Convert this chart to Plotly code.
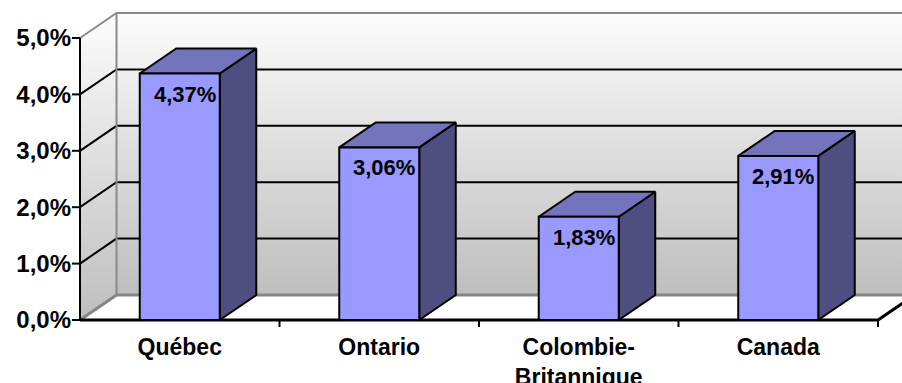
import plotly.graph_objects as go

# ---- data ----
categories = ["Québec", "Ontario", "Colombie-<br>Britannique", "Canada"]
values = [4.37, 3.06, 1.83, 2.91]
y_tick_vals = [0, 1, 2, 3, 4, 5]
y_tick_labels = ["0,0%", "1,0%", "2,0%", "3,0%", "4,0%", "5,0%"]
bar_labels = [f"{v:.2f}%".replace(".", ",") for v in values]

# ---- style / geometry ----
FONT = "Arial, 'Liberation Sans', sans-serif"
W, H = 902, 383
ML, MB = 72, 55
PX_CAT = 199.5          # pixels per category
PX_VAL = 56.4           # pixels per 1 %
BAR_W = 80 / PX_CAT     # bar width in category units
DX = 36.5 / PX_CAT      # depth offset (x)
DY = 25 / PX_VAL        # depth offset (y)
X0 = -0.5
YMAX = 5
n = len(categories)
XR = [X0 - 8 / PX_CAT, X0 - 8 / PX_CAT + (W - ML) / PX_CAT]
YR = [-8 / PX_VAL, -8 / PX_VAL + (H - MB) / PX_VAL]
X1 = X0 + n

FRONT = "#9999FF"
TOP = "#7474BC"
SIDE = "#4E4E80"

fig = go.Figure()


def poly(xs, ys, fill=None, line_color="black", line_width=2, gradient=None):
    kw = dict(x=xs, y=ys, mode="lines", hoverinfo="skip", showlegend=False,
              line=dict(color=line_color, width=line_width))
    if fill is not None:
        kw.update(fill="toself", fillcolor=fill)
    if gradient is not None:
        kw.update(fill="toself", fillgradient=gradient)
    fig.add_trace(go.Scatter(**kw))


grad = dict(type="vertical", colorscale=[[0, "#bebebe"], [1, "#fcfcfc"]])

# back wall
poly([X0 + DX, X1 + DX, X1 + DX, X0 + DX, X0 + DX],
     [DY, DY, YMAX + DY, YMAX + DY, DY],
     line_width=0, gradient=grad, line_color="rgba(0,0,0,0)")
# left wall
poly([X0, X0 + DX, X0 + DX, X0, X0],
     [0, DY, YMAX + DY, YMAX, 0],
     line_width=0, gradient=grad, line_color="rgba(0,0,0,0)")

# gridlines 1..4 (side wall + back wall)
gx, gy = [], []
for v in y_tick_vals[1:-1]:
    gx += [X0, X0 + DX, X1 + DX, None]
    gy += [v, v + DY, v + DY, None]
poly(gx, gy, line_color="black", line_width=2)

# top edge of walls (gray)
poly([X0, X0 + DX, X1 + DX], [YMAX, YMAX + DY, YMAX + DY],
     line_color="#8a8a8a", line_width=2)
# wall corner edge
poly([X0 + DX, X0 + DX], [DY, YMAX + DY], line_color="#8a8a8a", line_width=2)
# bottom edges of walls
poly([X0, X0 + DX, X1 + DX], [0, DY, DY], line_color="#858585", line_width=3)

# front floor edge + right diagonal
poly([X0, X1, X1 + DX], [0, 0, DY], line_color="black", line_width=3)
# y axis line
poly([X0, X0], [0, YMAX], line_color="black", line_width=2)

# y tick marks
tx, ty = [], []
for v in y_tick_vals:
    tx += [X0 - 8 / PX_CAT, X0, None]
    ty += [v, v, None]
poly(tx, ty, line_color="black", line_width=2)

# x tick marks at category boundaries
bx, by = [], []
for i in range(n):
    b = i + 0.5
    bx += [b, b, None]
    by += [0, -7 / PX_VAL, None]
poly(bx, by, line_color="black", line_width=2)

# bars
for i, v in enumerate(values):
    xl, xr = i - BAR_W / 2, i + BAR_W / 2
    # side face
    poly([xr, xr + DX, xr + DX, xr, xr], [0, DY, v + DY, v, 0], fill=SIDE)
    # top face
    poly([xl, xl + DX, xr + DX, xr, xl], [v, v + DY, v + DY, v, v], fill=TOP)
    # front face
    poly([xl, xr, xr, xl, xl], [0, 0, v, v, 0], fill=FRONT)

# value labels
for i, (v, t) in enumerate(zip(values, bar_labels)):
    fig.add_annotation(x=i, y=v, text=t, showarrow=False, yanchor="top",
                       xanchor="center", xshift=5, yshift=-6,
                       font=dict(family=FONT, size=22, color="black", weight="bold"))

fig.update_layout(
    width=W, height=H, autosize=False,
    margin=dict(l=ML, r=0, t=0, b=MB, pad=0, autoexpand=False),
    paper_bgcolor="white", plot_bgcolor="white",
    xaxis=dict(range=XR, tickvals=list(range(n)), ticktext=categories,
               showgrid=False, zeroline=False, showline=False, ticks="",
               ticklabelstandoff=3, automargin=False,
               tickfont=dict(family=FONT, size=23, color="black", weight="bold")),
    yaxis=dict(range=YR, tickvals=y_tick_vals, ticktext=y_tick_labels,
               showgrid=False, zeroline=False, showline=False, ticks="",
               automargin=False,
               tickfont=dict(family=FONT, size=24, color="black", weight="bold")),
)

fig.write_html("out.html")
